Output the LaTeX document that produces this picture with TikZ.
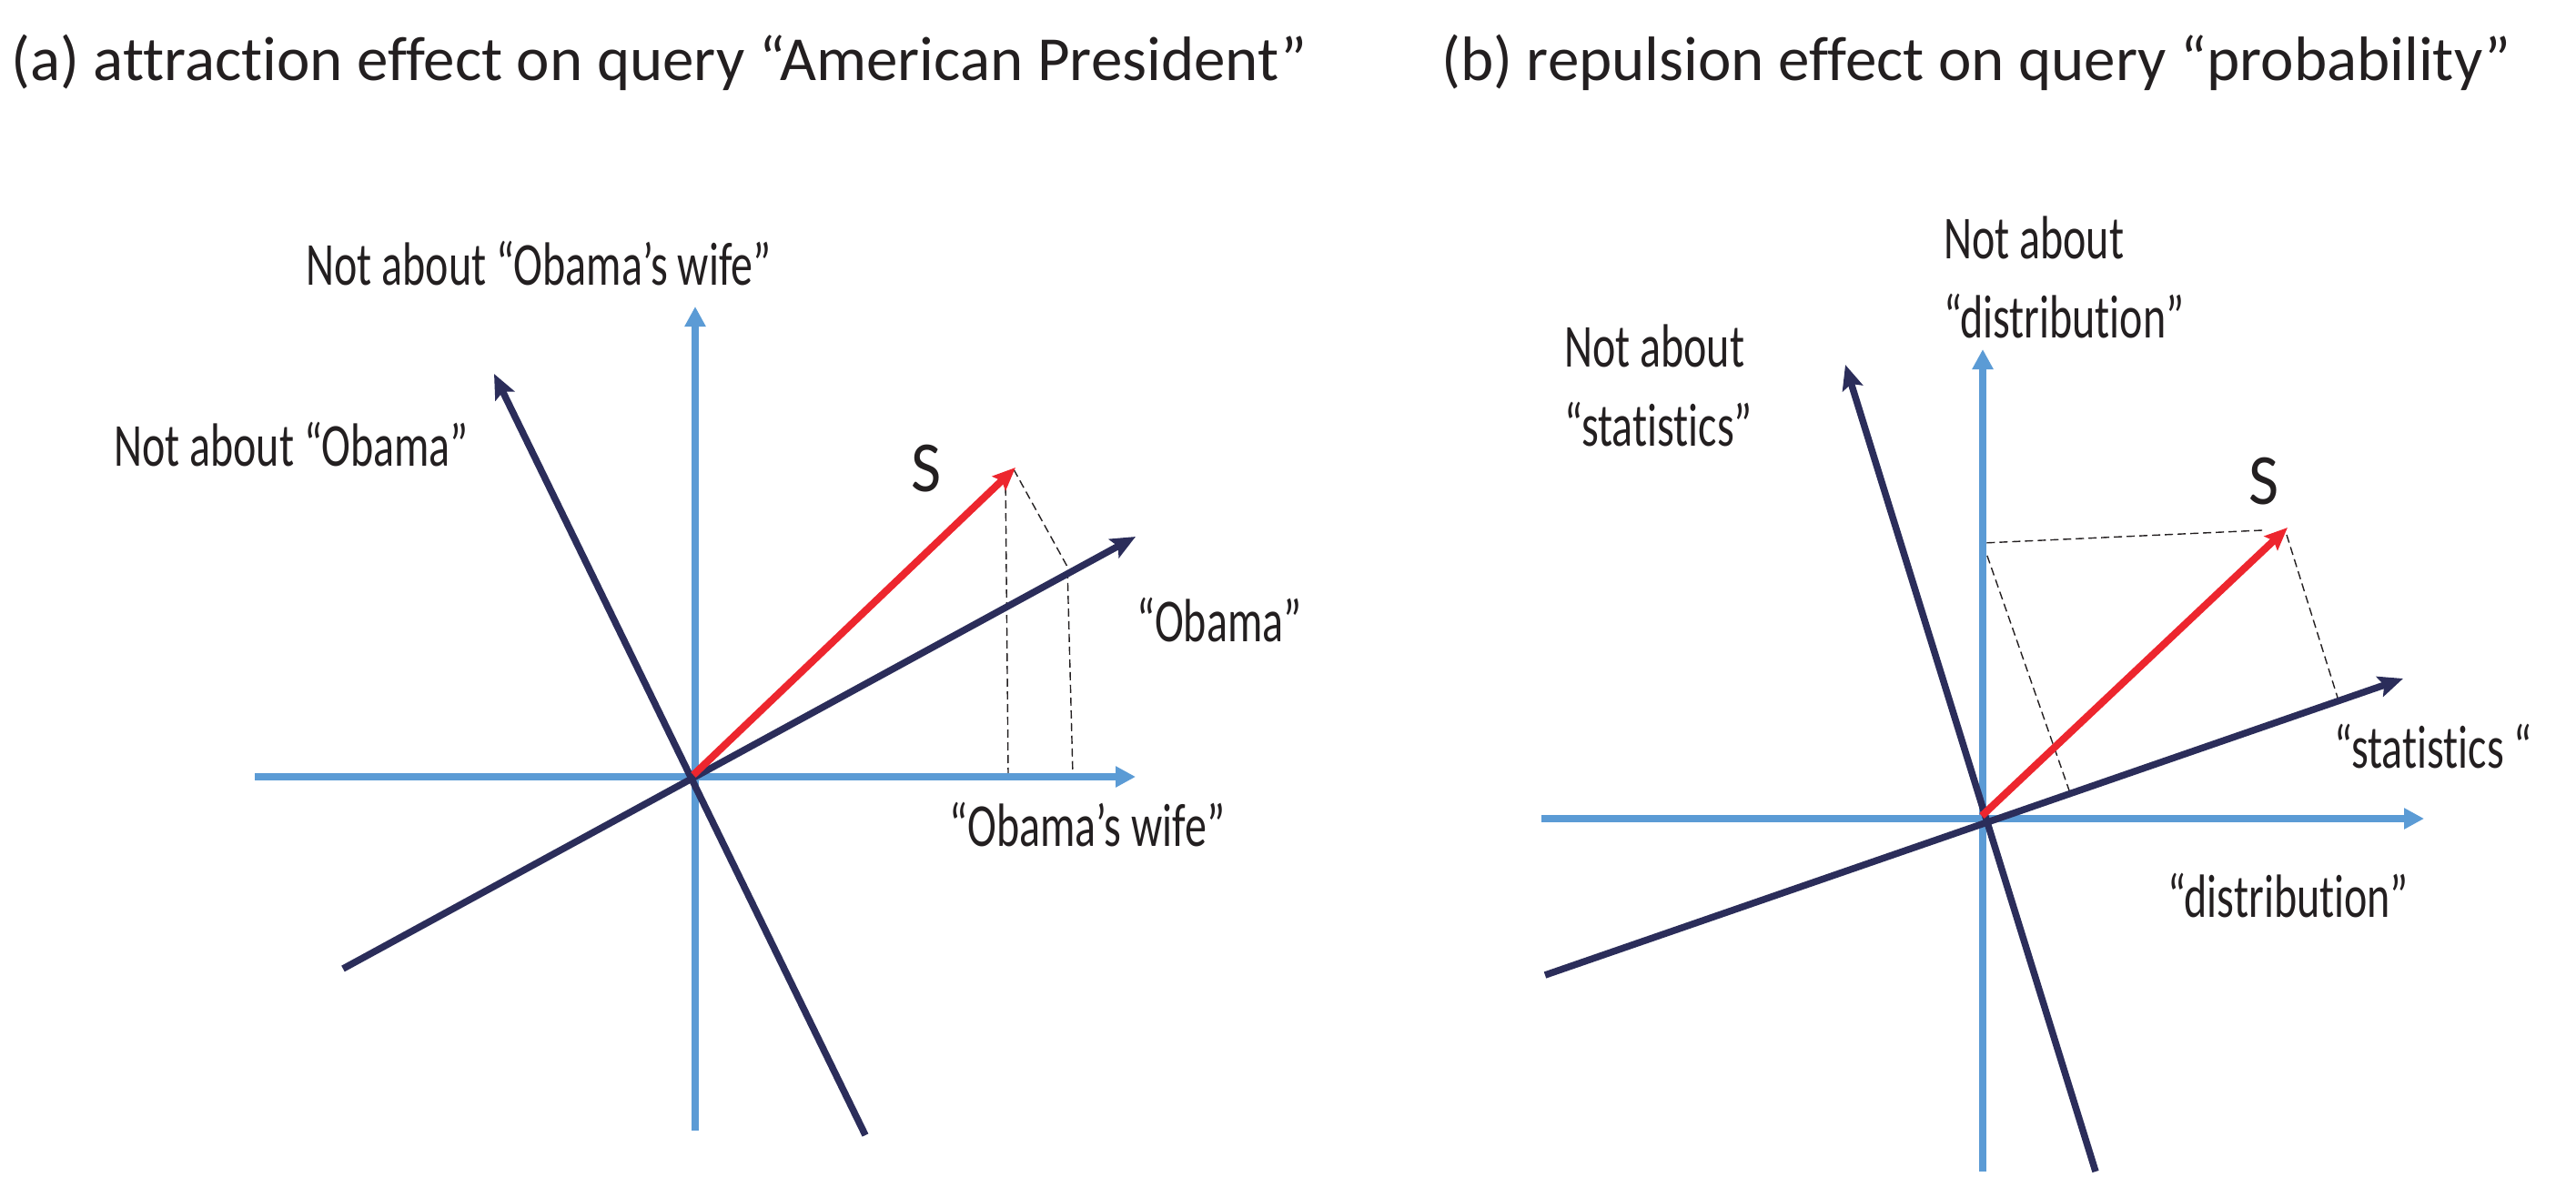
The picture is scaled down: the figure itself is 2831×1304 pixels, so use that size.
\documentclass[tikz,border=0pt]{standalone}
\usepackage{fontspec}
\setmainfont{Carlito}[Ligatures=NoCommon]
\usetikzlibrary{arrows.meta}
\definecolor{axisblue}{RGB}{91,155,213}
\definecolor{navy}{RGB}{43,45,90}
\definecolor{svec}{RGB}{237,38,46}
\definecolor{ink}{RGB}{35,31,32}
\newcommand{\tall}[1]{\scalebox{1}[1.4]{#1}}
\newcommand{\twolines}[2]{\scalebox{1}[1.4]{\begin{tabular}{@{}l@{}}#1\\#2\end{tabular}}}
\begin{document}
\begin{tikzpicture}[x=1pt,y=-1pt,
  axis/.style={draw=axisblue,line width=8.5pt,-{Triangle[length=22pt,width=22pt]}},
  basis/.style={draw=navy,line width=7.5pt,-{Stealth[length=27pt,width=23pt,inset=5pt]}},
  svector/.style={draw=svec,line width=8pt,-{Stealth[length=25pt,width=21pt,inset=4pt]}},
  proj/.style={draw=ink,line width=1.4pt,dash pattern=on 9pt off 5pt},
  title/.style={text=ink,inner sep=0pt,font=\fontsize{69}{84}\selectfont},
  lbl/.style={text=ink,inner sep=0pt,font=\fontsize{48}{62}\selectfont},
  slbl/.style={text=ink,inner sep=0pt,font=\fontsize{72}{86}\selectfont}]
\useasboundingbox (0,0) rectangle (2831,1304);

% titles
\node[title,anchor=west] (ta) at (12,69) {(a) attraction effect on query “American President”};
\node[title,anchor=west] (tb) at (1584,69) {(b) repulsion effect on query “probability”};

% ---------- panel (a) ----------
\coordinate (aHl) at (280,854);
\coordinate (aHr) at (1248,854);
\coordinate (aVb) at (764,1243);
\coordinate (aVt) at (764,337);
\coordinate (aOl) at (377,1065);
\coordinate (aOt) at (1248,590);
\coordinate (aNb) at (951,1248);
\coordinate (aNt) at (543,411);
\coordinate (aS0) at (762,852);
\coordinate (aS1) at (1116,514);
\coordinate (aP1) at (1105,522);
\coordinate (aP1b) at (1108,853);
\coordinate (aP2) at (1114,516);
\coordinate (aP2b) at (1173,623);
\coordinate (aP3b) at (1179,852);

\draw[proj] (aP1) -- (aP1b);
\draw[proj] (aP2) -- (aP2b) -- (aP3b);
\draw[axis] (aHl) -- (aHr);
\draw[axis] (aVb) -- (aVt);
\draw[basis] (aNb) -- (aNt);
\draw[basis] (aOl) -- (aOt);
\draw[svector] (aS0) -- (aS1);

\node[lbl] (laVt) at (592,290) {\tall{Not about “Obama’s wife”}};
\node[lbl,anchor=west] (laNt) at (125,489) {\tall{Not about “Obama”}};
\node[slbl] (laS) at (1018,515) {\scalebox{1}[1.1]{S}};
\node[lbl] (laO) at (1340,682) {\tall{“Obama”}};
\node[lbl] (laH) at (1195,906) {\tall{“Obama’s wife”}};

% ---------- panel (b) ----------
\coordinate (bHl) at (1694,900);
\coordinate (bHr) at (2664,900);
\coordinate (bVb) at (2179,1288);
\coordinate (bVt) at (2179,384);
\coordinate (bSl) at (1698,1072);
\coordinate (bSt) at (2641,746);
\coordinate (bNb) at (2303,1288);
\coordinate (bNt) at (2028,401);
\coordinate (bS0) at (2178,897);
\coordinate (bS1) at (2514,580);
\coordinate (bQ1) at (2179,597);
\coordinate (bQ1b) at (2486,583);
\coordinate (bQ2) at (2181,603);
\coordinate (bQ2b) at (2274,869);
\coordinate (bQ3) at (2513,588);
\coordinate (bQ3b) at (2569,767);

\draw[proj] (bQ1b) -- (bQ1) -- (bQ2b);
\draw[proj] (bQ3) -- (bQ3b);
\draw[axis] (bHl) -- (bHr);
\draw[axis] (bVb) -- (bVt);
\draw[basis] (bNb) -- (bNt);
\draw[basis] (bSl) -- (bSt);
\draw[svector] (bS0) -- (bS1);

\node[lbl,anchor=west] (lbVt) at (2136,311) {\twolines{Not about}{“distribution”}};
\node[lbl,anchor=west] (lbNt) at (1719,430) {\twolines{Not about}{“statistics”}};
\node[slbl] (lbS) at (2488,529) {\scalebox{1}[1.1]{S}};
\node[lbl] (lbSt) at (2674,821) {\tall{“statistics “}};
\node[lbl] (lbH) at (2515,984) {\tall{“distribution”}};
\end{tikzpicture}
\end{document}
